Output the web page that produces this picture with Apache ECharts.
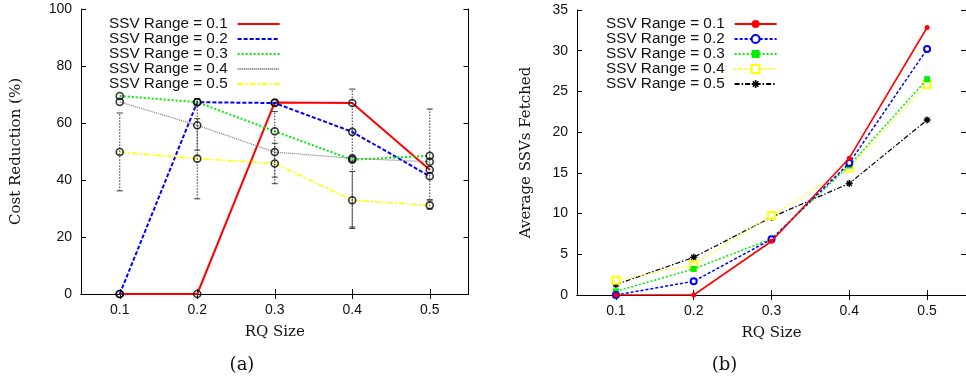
<!DOCTYPE html>
<html>
<head>
<meta charset="utf-8">
<script src="https://cdn.jsdelivr.net/npm/echarts@6/dist/echarts.min.js"></script>
<style>
  html, body { margin: 0; padding: 0; background: #fff; }
  #wrap { position: relative; width: 966px; height: 383px; overflow: hidden; }
  #costChart { position: absolute; left: 0; top: 0; width: 483px; height: 383px; }
  #fetchChart { position: absolute; left: 483px; top: 0; width: 483px; height: 383px; }
</style>
</head>
<body>
<div id="wrap">
  <div id="costChart"></div>
  <div id="fetchChart"></div>
</div>
<script>
// RQ size categories (shared x axis)
const rqSizes = ['0.1', '0.2', '0.3', '0.4', '0.5'];
const rangeNames = ['SSV Range = 0.1', 'SSV Range = 0.2', 'SSV Range = 0.3', 'SSV Range = 0.4', 'SSV Range = 0.5'];

// (a) cost reduction, percent
const costR01 = [0, 0, 67.2, 67.0, 43.6];
const costR02 = [0, 67.3, 67.0, 56.9, 41.3];
const costR03 = [69.5, 67.3, 57.1, 47.1, 48.5];
const costR04 = [67.4, 59.2, 49.8, 47.6, 46.4];
const costR05 = [49.8, 47.5, 45.8, 32.9, 31.1];
// error ranges (low / high) for the 0.4 and 0.5 ranges
const costR04Low  = [null, 50.5, 41.0, 23.5, 33.0];
const costR04High = [null, 68.5, 64.0, 71.9, 64.9];
const costR05Low  = [36.2, 33.4, 38.7, 23.0, 29.8];
const costR05High = [63.5, 61.5, 52.9, 43.0, 33.0];

// (b) average SSVs fetched
const fetchR01 = [0, 0, 6.6, 16.8, 32.85];
const fetchR02 = [0, 1.68, 6.85, 16.2, 30.2];
const fetchR03 = [0.45, 3.2, 6.9, 15.9, 26.5];
const fetchR04 = [1.8, 3.7, 9.75, 15.6, 25.85];
const fetchR05 = [1.28, 4.63, 9.55, 13.7, 21.5];

// y axis ticks
const costTicks = { min: 0, max: 100, interval: 20 };
const fetchTicks = { min: 0, max: 35, interval: 5 };

const SANS = 'Liberation Sans';
const SERIF = 'DejaVu Serif';
const INK = '#111';

function xAxes(name) {
  const tick = { show: true, inside: true, alignWithLabel: true, length: 5, lineStyle: { color: '#000', width: 1 } };
  return [
    {
      type: 'category', data: rqSizes, boundaryGap: true, position: 'bottom',
      axisLine: { lineStyle: { color: '#000', width: 1 } },
      axisTick: tick,
      axisLabel: { fontFamily: SANS, fontSize: 14, color: INK, margin: 9 },
      name: name, nameLocation: 'middle', nameGap: 31,
      nameTextStyle: { fontFamily: SERIF, fontSize: 15, color: INK }
    },
    {
      type: 'category', data: rqSizes, boundaryGap: true, position: 'top',
      axisLine: { lineStyle: { color: '#000', width: 1 } },
      axisTick: tick,
      axisLabel: { show: false }
    }
  ];
}

function yAxes(ticks, name, gap) {
  const tick = { show: true, inside: true, length: 5, lineStyle: { color: '#000', width: 1 } };
  return [
    {
      type: 'value', min: ticks.min, max: ticks.max, interval: ticks.interval, position: 'left',
      axisLine: { show: true, lineStyle: { color: '#000', width: 1 } },
      axisTick: tick, splitLine: { show: false },
      axisLabel: { fontFamily: SANS, fontSize: 14, color: INK, margin: 9 },
      name: name, nameLocation: 'middle', nameGap: gap, nameRotate: 90,
      nameTextStyle: { fontFamily: SERIF, fontSize: 15, color: INK }
    },
    {
      type: 'value', min: ticks.min, max: ticks.max, interval: ticks.interval, position: 'right',
      axisLine: { show: true, lineStyle: { color: '#000', width: 1 } },
      axisTick: tick, splitLine: { show: false },
      axisLabel: { show: false }
    }
  ];
}

function legendAt(left, extra) {
  return Object.assign({
    orient: 'vertical', left: left, top: 11.5, align: 'right',
    itemWidth: 42, itemHeight: 10, itemGap: 0, selectedMode: false,
    textStyle: { fontFamily: SANS, fontSize: 15.3, color: INK, lineHeight: 14.8, padding: [0, 5, 0, 0] },
    data: rangeNames
  }, extra || {});
}

function caption(x, text) {
  return {
    type: 'text', x: x, y: 365,
    style: { text: text, align: 'center', verticalAlign: 'middle', fontFamily: SERIF, fontSize: 18, fill: INK }
  };
}

// ---------- (a) cost reduction ----------
const costSeriesData = [costR01, costR02, costR03, costR04, costR05];
const costLineStyles = [
  { color: '#ff0000', width: 2, type: 'solid' },
  { color: '#0000ff', width: 2, type: [4, 2] },
  { color: '#00ee00', width: 2, type: [2, 2] },
  { color: '#777777', width: 1.2, type: [1, 1] },
  { color: '#ffff00', width: 1.6, type: [6, 2, 2, 2] }
];

const costSeries = [];
costSeriesData.forEach((vals, i) => {
  costSeries.push({
    type: 'line', name: rangeNames[i], data: vals,
    symbol: 'none', lineStyle: costLineStyles[i], itemStyle: { color: costLineStyles[i].color },
    z: 2, silent: true, animation: false
  });
});

function errorData(lo, hi) {
  const out = [];
  lo.forEach((v, i) => { if (v != null && hi[i] != null) out.push([i, v, hi[i]]); });
  return out;
}

function renderErrorBar(params, api) {
  const i = api.value(0);
  const pLo = api.coord([i, api.value(1)]);
  const pHi = api.coord([i, api.value(2)]);
  const cap = 3;
  const dotted = { stroke: '#333', lineWidth: 1, lineDash: [1.5, 1.5] };
  const solid = { stroke: '#333', lineWidth: 1 };
  return {
    type: 'group',
    children: [
      { type: 'line', shape: { x1: pLo[0], y1: pLo[1], x2: pHi[0], y2: pHi[1] }, style: dotted },
      { type: 'line', shape: { x1: pLo[0] - cap, y1: pLo[1], x2: pLo[0] + cap, y2: pLo[1] }, style: solid },
      { type: 'line', shape: { x1: pHi[0] - cap, y1: pHi[1], x2: pHi[0] + cap, y2: pHi[1] }, style: solid }
    ]
  };
}

[[costR04Low, costR04High], [costR05Low, costR05High]].forEach(([lo, hi]) => {
  costSeries.push({
    type: 'custom', renderItem: renderErrorBar, data: errorData(lo, hi),
    encode: { x: 0, y: [1, 2] }, z: 3, silent: true, animation: false
  });
});

costSeriesData.forEach((vals) => {
  costSeries.push({
    type: 'scatter', data: vals, symbol: 'circle', symbolSize: 7,
    itemStyle: { color: 'rgba(0,0,0,0)', borderColor: '#000', borderWidth: 1.6 },
    z: 4, silent: true, animation: false
  });
});

const costChart = echarts.init(document.getElementById('costChart'), null, { renderer: 'canvas' });
costChart.setOption({
  animation: false,
  grid: { left: 81, top: 9, width: 387.5, height: 285 },
  xAxis: xAxes('RQ Size'),
  yAxis: yAxes(costTicks, 'Cost Reduction (%)', 57),
  legend: legendAt(104, { itemStyle: { color: 'rgba(0,0,0,0)', borderColor: 'rgba(0,0,0,0)', borderWidth: 0, opacity: 0 } }),
  series: costSeries,
  graphic: [caption(242, '(a)')]
});

// ---------- (b) average SSVs fetched ----------
const asterisk = 'path://M-1,-5L1,-5L1,-1L5,-1L5,1L1,1L1,5L-1,5L-1,1L-5,1L-5,-1L-1,-1Z' +
  'M-4.2,-2.8L-2.8,-4.2L0,-1.4L2.8,-4.2L4.2,-2.8L1.4,0L4.2,2.8L2.8,4.2L0,1.4L-2.8,4.2L-4.2,2.8L-1.4,0Z';

const fetchSeriesData = [fetchR01, fetchR02, fetchR03, fetchR04, fetchR05];
const fetchStyles = [
  { line: { color: '#ff0000', width: 1.6, type: 'solid' }, symbol: 'circle', size: 5, item: { color: '#ff0000' } },
  { line: { color: '#0000ff', width: 1.5, type: [3, 2] }, symbol: 'emptyCircle', size: 6, item: { color: '#0000ff', borderWidth: 1.5 } },
  { line: { color: '#00ee00', width: 1.5, type: [2, 2] }, symbol: 'rect', size: 6, item: { color: '#00ee00' } },
  { line: { color: '#ffff00', width: 1.1, type: [1.5, 1.5] }, symbol: 'emptyRect', size: 7, item: { color: '#ffff00', borderWidth: 1.5 } },
  { line: { color: '#000000', width: 1.2, type: [5, 2, 1.5, 2] }, symbol: asterisk, size: 7, item: { color: '#000000' } }
];

const fetchSeries = fetchSeriesData.map((vals, i) => ({
  type: 'line', name: rangeNames[i], data: vals,
  symbol: fetchStyles[i].symbol, symbolSize: fetchStyles[i].size, showSymbol: true,
  lineStyle: fetchStyles[i].line, itemStyle: fetchStyles[i].item,
  z: 2 + (4 - i) * 0.1, silent: true, animation: false
}));

const fetchChart = echarts.init(document.getElementById('fetchChart'), null, { renderer: 'canvas' });
fetchChart.setOption({
  animation: false,
  grid: { left: 94, top: 10, width: 396, height: 285 },
  xAxis: xAxes('RQ Size'),
  yAxis: yAxes(fetchTicks, 'Average SSVs Fetched', 43),
  legend: legendAt(118),
  series: fetchSeries,
  graphic: [caption(241.5, '(b)')]
});
</script>
</body>
</html>
